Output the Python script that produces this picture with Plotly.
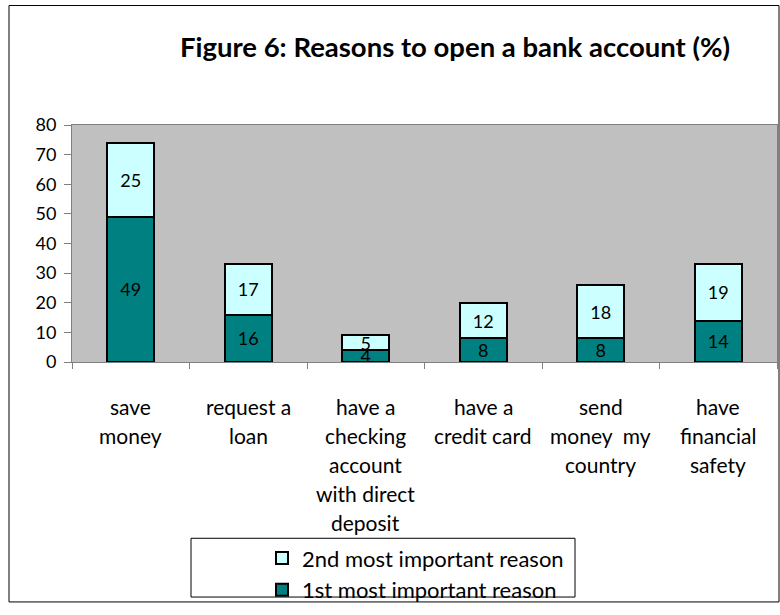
import plotly.graph_objects as go

categories = ["save\nmoney", "request a\nloan", "have a\nchecking\naccount\nwith direct\ndeposit",
              "have a\ncredit card", "send\nmoney  my\ncountry", "have\nfinancial\nsafety"]
first_reason = [49, 16, 4, 8, 8, 14]
second_reason = [25, 17, 5, 12, 18, 19]
series_names = ["1st most important reason", "2nd most important reason"]
y_ticks = [0, 10, 20, 30, 40, 50, 60, 70, 80]

W, H = 780, 615
L, R, T, B = 72, 3, 125, 248
PW, PH = W - L - R, H - T - B

def px(x):
    return (x - L) / PW

def py(y):
    return (H - B - y) / PH

FONT = "Lato"
cat_ids = [c.replace("\n", " ") for c in categories]

fig = go.Figure()
fig.add_trace(go.Bar(
    x=cat_ids, y=first_reason, name=series_names[0],
    marker=dict(color="#008080", line=dict(color="black", width=2)),
    text=[str(v) for v in first_reason], textposition="inside", textangle=0,
    insidetextanchor="middle", constraintext="none",
    textfont=dict(family=FONT, size=18, color="black"),
))
fig.add_trace(go.Bar(
    x=cat_ids, y=second_reason, name=series_names[1],
    marker=dict(color="#CCFFFF", line=dict(color="black", width=2)),
    text=[str(v) for v in second_reason], textposition="inside", textangle=0,
    insidetextanchor="middle", constraintext="none",
    textfont=dict(family=FONT, size=18, color="black"),
))

annotations = []
for cid, lab in zip(cat_ids, categories):
    for k, line in enumerate(lab.split("\n")):
        annotations.append(dict(
            x=cid, y=0, xref="x", yref="y", text=line, showarrow=False,
            yanchor="middle", yshift=-(44 + 29 * k),
            font=dict(family=FONT, size=21, color="black"),
        ))

shapes = [
    # outer chart frame
    dict(type="rect", xref="paper", yref="paper",
         x0=px(9), x1=px(779), y0=py(612), y1=py(3),
         line=dict(color="black", width=1), fillcolor="rgba(0,0,0,0)", layer="below"),
    # legend box
    dict(type="rect", xref="paper", yref="paper",
         x0=px(191), x1=px(575), y0=py(607), y1=py(547),
         line=dict(color="black", width=1), fillcolor="rgba(0,0,0,0)"),
]

fig.update_layout(
    width=W, height=H,
    margin=dict(l=L, r=R, t=T, b=B),
    barmode="stack", bargap=0.6,
    paper_bgcolor="white", plot_bgcolor="#C0C0C0",
    font=dict(family=FONT, size=18, color="black"),
    title=dict(text="<b>Figure 6: Reasons to open a bank account (%)</b>",
               xref="container", x=455 / W, xanchor="center",
               yref="container", y=1 - 47 / H, yanchor="middle",
               font=dict(family=FONT, size=27.5, color="black")),
    xaxis=dict(type="category", showticklabels=False, ticks="outside", tickson="boundaries",
               ticklen=6, tickcolor="#808080", showline=True, linecolor="#808080",
               linewidth=1, mirror=True, showgrid=False),
    yaxis=dict(range=[0, 80], tickvals=y_ticks, ticks="outside", ticklen=7,
               tickcolor="#808080", showline=True, linecolor="#808080", linewidth=1,
               mirror=True, showgrid=False, zeroline=False, ticklabelstandoff=4,
               tickfont=dict(family=FONT, size=18, color="black")),
    legend=dict(x=px(262), y=py(546), xanchor="left", yanchor="top",
                traceorder="reversed", borderwidth=0, bgcolor="rgba(0,0,0,0)",
                font=dict(family=FONT, size=22, color="black"), tracegroupgap=0),
    annotations=annotations,
    shapes=shapes,
    showlegend=True,
)

fig.write_html("out.html")
